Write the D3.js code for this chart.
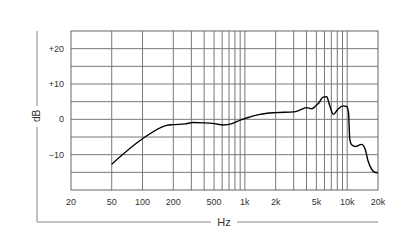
<!DOCTYPE html>
<html>
<head>
<meta charset="utf-8">
<script src="https://cdn.jsdelivr.net/npm/d3@7"></script>
<style>
  body { margin: 0; background: #fff; }
  text { font-family: "Liberation Sans", Arial, sans-serif; fill: #333; }
</style>
</head>
<body>
<div id="chart"></div>
<script>
// frequency response
const freqs = [50, 100, 172, 200, 260, 312, 400, 500, 616, 750, 900, 1100, 1400, 2000, 3000, 3500, 4000, 4500, 5000, 5300, 5800, 6300, 6700, 7000, 7330, 7800, 8200, 9200, 9900, 10300, 10600, 11000, 12100, 13800, 15000, 16000, 17400, 18400, 20000];
const dbs   = [-12.7, -5.5, -1.7, -1.5, -1.3, -0.9, -1.0, -1.2, -1.6, -1.2, -0.2, 0.6, 1.4, 1.9, 2.1, 2.7, 3.3, 3.0, 4.0, 4.7, 6.3, 6.4, 4.2, 2.5, 1.4, 2.2, 3.0, 3.8, 3.6, 1.9, -5.7, -7.1, -7.7, -7.1, -8.5, -11.8, -14.2, -14.9, -15.1];

const xTicks = [20, 50, 100, 200, 500, 1000, 2000, 5000, 10000, 20000];
const xTickLabels = ["20", "50", "100", "200", "500", "1k", "2k", "5k", "10k", "20k"];
const xGrid = [50, 100, 200, 300, 400, 500, 600, 700, 800, 900, 1000, 2000, 3000, 4000, 5000, 6000, 7000, 8000, 9000, 10000];
const yGrid = [-15, -10, -5, 0, 5, 10, 15, 20];
const yTicks = [20, 10, 0, -10];
const yTickLabels = ["+20", "+10", "0", "\u221210"];

const width = 416, height = 250;
const mLeft = 71, mRight = 378, mTop = 31, mBottom = 190;

const svg = d3.select("#chart").append("svg")
  .attr("width", width).attr("height", height);

const x = d3.scaleLog().domain([20, 20000]).range([mLeft, mRight]);
const y = d3.scaleLinear().domain([-20, 25]).range([mBottom, mTop]);

// grid
svg.selectAll(".vg").data(xGrid).enter().append("line")
  .attr("x1", d => x(d)).attr("x2", d => x(d))
  .attr("y1", mTop).attr("y2", mBottom)
  .attr("stroke", "#777").attr("stroke-width", 1);

svg.selectAll(".hg").data(yGrid).enter().append("line")
  .attr("x1", mLeft).attr("x2", mRight)
  .attr("y1", d => y(d)).attr("y2", d => y(d))
  .attr("stroke", "#777").attr("stroke-width", 1);

svg.append("rect")
  .attr("x", mLeft).attr("y", mTop)
  .attr("width", mRight - mLeft).attr("height", mBottom - mTop)
  .attr("fill", "none").attr("stroke", "#666").attr("stroke-width", 1);

// tick labels
svg.selectAll(".xl").data(xTicks).enter().append("text")
  .attr("x", d => x(d)).attr("y", 205)
  .attr("text-anchor", "middle")
  .style("font-size", "9px")
  .text((d, i) => xTickLabels[i]);

svg.selectAll(".yl").data(yTicks).enter().append("text")
  .attr("x", 64).attr("y", d => y(d) + 3)
  .attr("text-anchor", "end")
  .style("font-size", "9px")
  .text((d, i) => yTickLabels[i]);

// axis frame lines with titles
const axisCol = "#888";
svg.append("line").attr("x1", 37).attr("x2", 37).attr("y1", mTop).attr("y2", 106)
  .attr("stroke", axisCol);
svg.append("line").attr("x1", 37).attr("x2", 37).attr("y1", 127).attr("y2", 222)
  .attr("stroke", axisCol);
svg.append("line").attr("x1", 37).attr("x2", 211).attr("y1", 222).attr("y2", 222)
  .attr("stroke", axisCol);
svg.append("line").attr("x1", 237).attr("x2", mRight).attr("y1", 222).attr("y2", 222)
  .attr("stroke", axisCol);

svg.append("text")
  .attr("transform", "translate(40,116) rotate(-90)")
  .attr("text-anchor", "middle")
  .style("font-size", "10px")
  .text("dB");

svg.append("text")
  .attr("x", 224).attr("y", 226)
  .attr("text-anchor", "middle")
  .style("font-size", "11px")
  .text("Hz");

// response curve
const pts = freqs.map((f, i) => [f, dbs[i]]);
const line = d3.line()
  .x(d => x(d[0])).y(d => y(d[1]))
  .curve(d3.curveMonotoneX);

svg.append("path")
  .datum(pts)
  .attr("d", line)
  .attr("fill", "none")
  .attr("stroke", "#000")
  .attr("stroke-width", 1.4);
</script>
</body>
</html>
